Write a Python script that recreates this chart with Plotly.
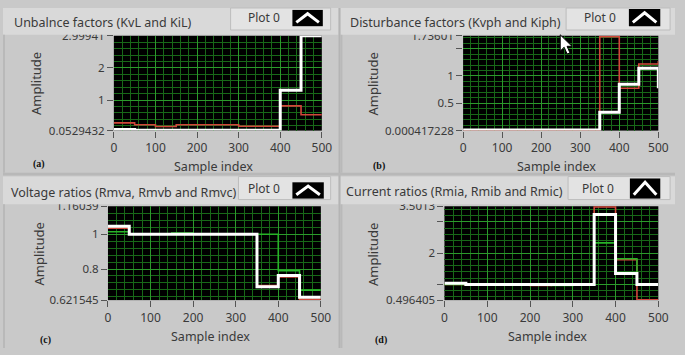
import plotly.graph_objects as go

# ---------------- data ----------------
sample_x = [0, 50, 100, 150, 200, 250, 300, 350, 400, 450, 500]

# (a) Unbalance factors
kvl = [0.09, 0.06, 0.06, 0.06, 0.06, 0.06, 0.06, 0.06, 1.31, 2.9994, 2.9994]
kil = [0.293, 0.232, 0.18, 0.232, 0.232, 0.232, 0.19, 0.19, 0.82, 0.545, 0.545]

# (b) Disturbance factors
kvph = [0.01, 0.01, 0.01, 0.01, 0.01, 0.01, 0.01, 0.335, 0.847, 1.14, 0.776]
kiph = [0.005, 0.005, 0.005, 0.005, 0.005, 0.005, 0.005, 1.72, 0.776, 1.218, 1.276]

# (c) Voltage ratios
rmva = [1.046, 1.0, 1.0, 1.0, 1.0, 1.0, 1.0, 0.698, 0.7625, 0.6375, 0.6375]
rmvb = [1.034, 1.0, 1.0, 1.0, 1.0, 1.0, 1.0, 0.705, 0.755, 0.626, 0.626]
rmvc = [1.014, 1.0, 1.0, 1.006, 1.0, 1.0, 1.0, 1.0, 0.791, 0.679, 0.679]

# (d) Current ratios
rmia = [1.04, 1.0, 1.0, 1.0, 1.0, 1.0, 1.0, 3.24, 1.35, 1.0, 1.0]
rmib = [1.0, 1.0, 1.0, 1.0, 0.965, 1.0, 1.0, 3.48, 1.79, 0.51, 0.51]
rmic = [1.0, 1.0, 1.0, 1.0, 1.0, 0.965, 1.0, 2.33, 1.82, 1.0, 1.0]

x_ticks = [0, 100, 200, 300, 400, 500]
ya_ticks = [0.0529432, 1, 2, 2.99941]
ya_text = ["0.0529432", "1", "2", "2.99941"]
yb_ticks = [0.000417228, 0.5, 1, 1.5, 1.73601]
yb_text = ["0.000417228", "0.5", "1", "", "1.73601"]
yc_ticks = [0.621545, 0.8, 1, 1.16039]
yc_text = ["0.621545", "0.8", "1", "1.16039"]
yd_ticks = [0.496405, 1, 2, 3, 3.5013]
yd_text = ["0.496405", "", "2", "", "3.5013"]

titles = ["Unbalnce factors (KvL and KiL)", "Disturbance factors (Kvph and Kiph)",
          "Voltage ratios (Rmva, Rmvb and Rmvc)", "Current ratios (Rmia, Rmib and Rmic)"]
letters = ["(a)", "(b)", "(c)", "(d)"]

# ---------------- styling ----------------
W, H = 685, 355
def px(x):
    return x / W
def py(y):
    return 1 - y / H

RED = "#d2463a"
GREEN = "#27b427"
WHITE = "#ffffff"
FONT = "Noto Sans"
TXT = "#3a3a3a"

fig = go.Figure()

def add(series, color, width, ax):
    fig.add_trace(go.Scatter(x=sample_x, y=series, mode="lines", line_shape="hv",
                             line=dict(color=color, width=width),
                             xaxis="x" + ax, yaxis="y" + ax, showlegend=False,
                             hoverinfo="skip"))

add(kil, RED, 1.6, "")
add(kvl, WHITE, 3, "")
add(kiph, RED, 1.6, "2")
add(kvph, WHITE, 3, "2")
add(rmvb, RED, 1.6, "3")
add(rmvc, GREEN, 1.6, "3")
add(rmva, WHITE, 3, "3")
add(rmib, RED, 1.6, "4")
add(rmic, GREEN, 1.6, "4")
add(rmia, WHITE, 3, "4")

# panel geometry in pixels: (left, right, top, bottom)
geo = [(113, 325, 29, 128), (469, 668, 29, 128), (107, 324, 207, 305), (450, 668, 207, 305)]
yinfo = [(ya_ticks, ya_text, 0.2), (yb_ticks, yb_text, 0.1), (yc_ticks, yc_text, 0.04),
         (yd_ticks, yd_text, 0.2)]

MAJ = "#2b9a2b"
MIN = "#186818"

layout = dict(width=W, height=H, margin=dict(l=0, r=0, t=0, b=0), autosize=False,
              paper_bgcolor="#c9c9c9", plot_bgcolor="#000000", showlegend=False,
              font=dict(family=FONT, color=TXT))

for i, (l, r, t, b) in enumerate(geo):
    sfx = "" if i == 0 else str(i + 1)
    tv, tt, mdt = yinfo[i]
    layout["xaxis" + sfx] = dict(
        domain=[px(l), px(r)], anchor="y" + sfx, range=[0, 500],
        tickmode="array", tickvals=x_ticks, ticks="outside", ticklen=6,
        tickcolor="#555", tickfont=dict(size=12, color=TXT, family=FONT),
        showgrid=True, gridcolor=MAJ, gridwidth=1, zeroline=False,
        showline=False, fixedrange=True,
        minor=dict(tickmode="linear", tick0=0, dtick=20, showgrid=True,
                   gridcolor=MIN, gridwidth=1, ticks=""))
    layout["yaxis" + sfx] = dict(
        domain=[py(b), py(t)], anchor="x" + sfx, range=[tv[0], tv[-1]],
        tickmode="array", tickvals=tv, ticktext=tt, ticks="outside", ticklen=6,
        tickcolor="#555", tickfont=dict(size=11.5, color=TXT, family=FONT),
        showgrid=True, gridcolor=MAJ, gridwidth=1, zeroline=False,
        showline=False, fixedrange=True,
        minor=dict(tickmode="linear", tick0=0, dtick=mdt, showgrid=True,
                   gridcolor=MIN, gridwidth=1, ticks=""))

shapes = []
ann = []

def rect(x0, y0, x1, y1, fill, line=None, lw=0):
    shapes.append(dict(type="rect", xref="paper", yref="paper",
                       x0=px(x0), x1=px(x1), y0=py(y1), y1=py(y0),
                       fillcolor=fill, line=dict(color=line or fill, width=lw),
                       layer="above"))

def text(s, x, y, size=13, xanchor="center", angle=0, family=FONT, color=TXT):
    ann.append(dict(text=s, x=px(x), y=py(y), xref="paper", yref="paper",
                    xanchor=xanchor, yanchor="middle", showarrow=False,
                    textangle=angle, font=dict(size=size, family=family, color=color)))

# title strips (they also clip the upper half of the top tick labels)
rect(0, 0, 342, 28, "#d9d9d9")
rect(344, 0, 685, 28, "#d9d9d9")
rect(0, 176, 342, 205, "#d9d9d9")
rect(344, 176, 685, 205, "#d9d9d9")
# separators
rect(342, 0, 344, 355, "#b4b4b4")
rect(0, 172, 685, 175, "#b8b8b8")
rect(0, 28, 2, 172, "#b9b9b9")
rect(344, 28, 346, 172, "#b9b9b9")
rect(0, 205, 2, 355, "#b9b9b9")
rect(344, 205, 346, 355, "#b9b9b9")

# "Plot 0" boxes and black buttons
boxes = [((232, 0, 334, 23), (295, 2, 326, 19), (266, 10)),
         ((574, 0, 680, 23), (638, 1, 670, 19), (609, 10)),
         ((240, 176, 334, 200), (295, 182, 327, 199), (266, 188)),
         ((576, 176, 680, 200), (639, 178, 670, 199), (607, 188))]
for (bx, bb, tp) in boxes:
    rect(*bx, "#e3e3e3", "#bdbdbd", 1)
    rect(*bb, "#000000")
    cx = (bb[0] + bb[2]) / 2
    yb = bb[3] - 4
    yt = bb[1] + 4
    shapes.append(dict(type="path", xref="paper", yref="paper", layer="above",
                       path=f"M {px(bb[0]+4)} {py(yb)} L {px(cx)} {py(yt)} L {px(bb[2]-4)} {py(yb)}",
                       line=dict(color="#ffffff", width=3)))
    text("Plot 0", tp[0], tp[1], size=12)

# mouse cursor in panel (b)
cur = [(568, 28), (568, 45), (572, 41), (575, 48), (578, 47), (575, 40), (580, 40)]
path = "M " + " L ".join(f"{px(a)} {py(b)}" for a, b in cur) + " Z"
shapes.append(dict(type="path", xref="paper", yref="paper", layer="above", path=path,
                   fillcolor="#ffffff", line=dict(color="#000000", width=1)))

# panel titles
text(titles[0], 9, 15, size=12.5, xanchor="left")
text(titles[1], 352, 15, size=12.5, xanchor="left")
text(titles[2], 6, 193, size=12.5, xanchor="left")
text(titles[3], 348, 192, size=12.5, xanchor="left")

# axis titles and letters
for (ax, ay, sx, sy, lx, ly, lt) in [(33, 79, 215, 165, 37, 163, letters[0]),
                                      (377, 79, 564, 165, 383, 165, letters[1]),
                                      (37, 257, 212, 343, 43, 347, letters[2]),
                                      (377, 257, 555, 343, 385, 347, letters[3])]:
    text("Amplitude", ax, ay, size=13, angle=-90)
    text("Sample index", sx, sy, size=12.5)
    text("<b>" + lt + "</b>", lx, ly, size=10, family="Liberation Serif", color="#111")

layout["shapes"] = shapes
layout["annotations"] = ann
fig.update_layout(**layout)
fig.write_html("out.html", config={"displayModeBar": False},
               post_script="document.body.style.margin='0';document.body.style.padding='0';")
